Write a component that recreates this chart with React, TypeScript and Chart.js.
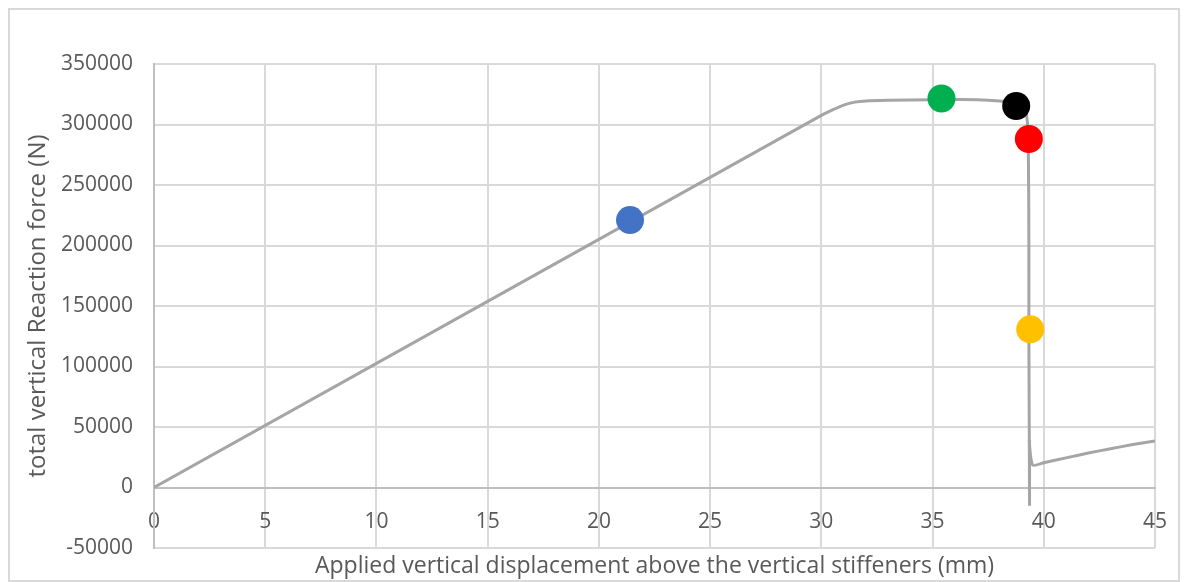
import React, { useEffect, useRef } from "react";
import { Chart, registerables } from "chart.js";

Chart.register(...registerables);

// Load-displacement curve (mm, N)
const curveX = [0, 30, 30.5, 31, 31.5, 32, 33, 35, 37, 38, 38.8, 39.1, 39.2, 39.3, 39.33, 39.35, 39.5, 40, 41, 42, 43, 44, 45];
const curveY = [0, 307500, 312000, 316000, 318500, 319500, 320000, 320500, 320500, 319500, 317500, 315000, 312000, 290000, 200000, 39000, 18600, 20500, 24500, 28500, 32000, 35500, 38500];

// Vertical tail below the drop
const tailX = [39.35, 39.36];
const tailY = [39000, -15000];

// Highlighted points
const markerX = [21.4, 35.4, 38.76, 39.33, 39.39];
const markerY = [221000, 321500, 315300, 288000, 130700];
const markerColors = ["#4472C4", "#00B050", "#000000", "#FF0000", "#FFC000"];

const xTicks = [0, 5, 10, 15, 20, 25, 30, 35, 40, 45];
const xTitle = "Applied vertical displacement above the vertical stiffeners (mm)";
const yTitle = "total vertical Reaction force (N)";

const FONT = "'Open Sans', sans-serif";
const TEXT = "#595959";

export default function App() {
  const ref = useRef<HTMLCanvasElement | null>(null);

  useEffect(() => {
    if (!ref.current) return;
    const xTitlePlugin = {
      id: "xTitle",
      afterDraw(chart: any) {
        const ctx = chart.ctx;
        const a = chart.chartArea;
        ctx.save();
        ctx.font = `23px ${FONT}`;
        ctx.fillStyle = TEXT;
        ctx.textAlign = "center";
        ctx.textBaseline = "middle";
        ctx.fillText(xTitle, (a.left + a.right) / 2, a.bottom + 18);
        ctx.restore();
      },
    };
    const chart = new Chart(ref.current, {
      type: "scatter",
      data: {
        datasets: [
          {
            label: "markers",
            data: markerX.map((x, i) => ({ x, y: markerY[i] })),
            pointRadius: 14,
            pointHoverRadius: 14,
            pointBackgroundColor: markerColors,
            pointBorderWidth: 0,
            showLine: false,
          },
          {
            label: "curve",
            data: curveX.map((x, i) => ({ x, y: curveY[i] })),
            showLine: true,
            borderColor: "#A5A5A5",
            borderWidth: 3,
            pointRadius: 0,
            tension: 0.2,
          },
          {
            label: "tail",
            data: tailX.map((x, i) => ({ x, y: tailY[i] })),
            showLine: true,
            borderColor: "#A5A5A5",
            borderWidth: 3,
            pointRadius: 0,
          },
        ],
      },
      options: {
        animation: false,
        responsive: false,
        layout: { padding: { top: 54, right: 23, bottom: 32, left: 0 } },
        plugins: { legend: { display: false }, tooltip: { enabled: false } },
        scales: {
          x: {
            type: "linear",
            position: { y: 0 } as any,
            min: 0,
            max: 45,
            afterBuildTicks: (s: any) => {
              s.ticks = xTicks.map((v) => ({ value: v }));
            },
            afterFit: (s: any) => {
              s.paddingLeft = 0;
              s.paddingRight = 0;
            },
            ticks: { color: TEXT, font: { family: FONT, size: 21 }, padding: 22, maxRotation: 0, callback: (v: any) => String(v) },
            grid: { color: "#D9D9D9", lineWidth: 2, drawTicks: false },
            border: { color: "#BFBFBF", width: 2 },
          },
          y: {
            min: -50000,
            max: 350000,
            ticks: { stepSize: 50000, color: TEXT, font: { family: FONT, size: 21 }, padding: 21, callback: (v: any) => String(v) },
            grid: { color: "#D9D9D9", lineWidth: 2, drawTicks: false },
            border: { color: "#BFBFBF", width: 2 },
            title: { display: true, text: yTitle, color: TEXT, font: { family: FONT, size: 24 }, padding: { top: 14, bottom: 0 } },
            afterFit: (s: any) => {
              s.width = 144;
              s.paddingTop = 0;
              s.paddingBottom = 0;
            },
          },
        },
      },
      plugins: [xTitlePlugin],
    });
    return () => chart.destroy();
  }, []);

  return (
    <div style={{ border: "2px solid #D9D9D9", width: 1168, height: 570, boxSizing: "content-box" }}>
      <canvas ref={ref} width={1168} height={570} style={{ display: "block" }} />
    </div>
  );
}
